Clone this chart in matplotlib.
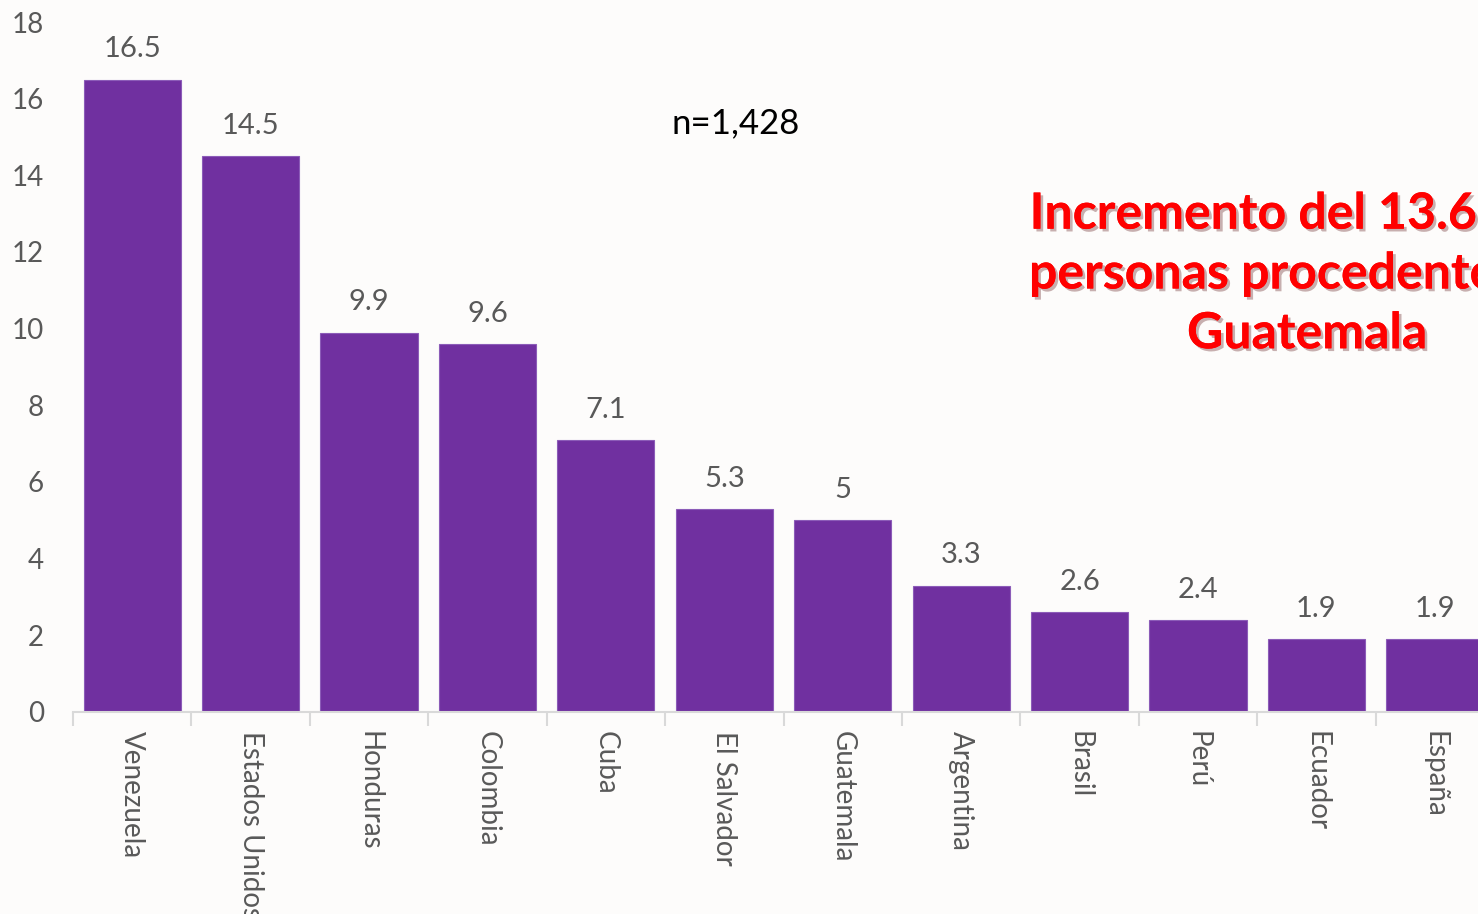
import matplotlib.pyplot as plt
import matplotlib.patheffects as pe
import numpy as np

paises = ['Venezuela', 'Estados Unidos', 'Honduras', 'Colombia', 'Cuba',
          'El Salvador', 'Guatemala', 'Argentina', 'Brasil', 'Perú',
          'Ecuador', 'España']
porcentajes = [16.5, 14.5, 9.9, 9.6, 7.1, 5.3, 5.0, 3.3, 2.6, 2.4, 1.9, 1.9]
etiquetas = ['16.5', '14.5', '9.9', '9.6', '7.1', '5.3', '5', '3.3', '2.6',
             '2.4', '1.9', '1.9']
yticks = list(range(0, 19, 2))

plt.rcParams['font.family'] = ['Lato', 'DejaVu Sans']
gris = '#595959'

fig = plt.figure(figsize=(14.78, 9.14), dpi=100)
fig.patch.set_facecolor('#fdfcfb')
# el grafico original esta recortado a la derecha
ax = fig.add_axes([73/1478, 202/914, 1421/1478, 690/914])
ax.set_facecolor('none')

x = np.arange(len(paises))
ax.bar(x, porcentajes, width=0.82, color='#7030A0', edgecolor='#8c5cb8',
       linewidth=0.8, zorder=2)

for xi, v, t in zip(x, porcentajes, etiquetas):
    ax.text(xi, v + 0.45, t, ha='center', va='bottom', fontsize=21, color=gris)

ax.set_xlim(-0.5, len(paises) - 0.5)
ax.set_ylim(0, 18)
ax.set_yticks(yticks)
ax.tick_params(axis='y', length=0, labelsize=20, labelcolor=gris, pad=21)

ax.set_xticks(x)
ax.set_xticklabels(paises, rotation=270, fontsize=20, color=gris, va='top')
ax.tick_params(axis='x', length=0, pad=14)
ax.set_xticks(np.arange(-0.5, len(paises), 1), minor=True)
ax.tick_params(axis='x', which='minor', length=10, color='#d9d9d9', width=1.5)

for s in ['top', 'right', 'left']:
    ax.spines[s].set_visible(False)
ax.spines['bottom'].set_color('#d9d9d9')
ax.spines['bottom'].set_linewidth(1.5)

fig.text(736/1478, 1 - 123/914, 'n=1,428', ha='center', va='center',
         fontsize=25, color='black')

fig.text(1307/1478, 1 - 274/914,
         'Incremento del 13.6% de\npersonas procedentes de\nGuatemala',
         ha='center', va='center', fontsize=36, fontweight='bold',
         color='#ff0000', linespacing=1.4,
         path_effects=[pe.withSimplePatchShadow(offset=(2, -2), alpha=0.3),
                       pe.Normal()])

fig.savefig('out.png', dpi=100, facecolor=fig.get_facecolor())
